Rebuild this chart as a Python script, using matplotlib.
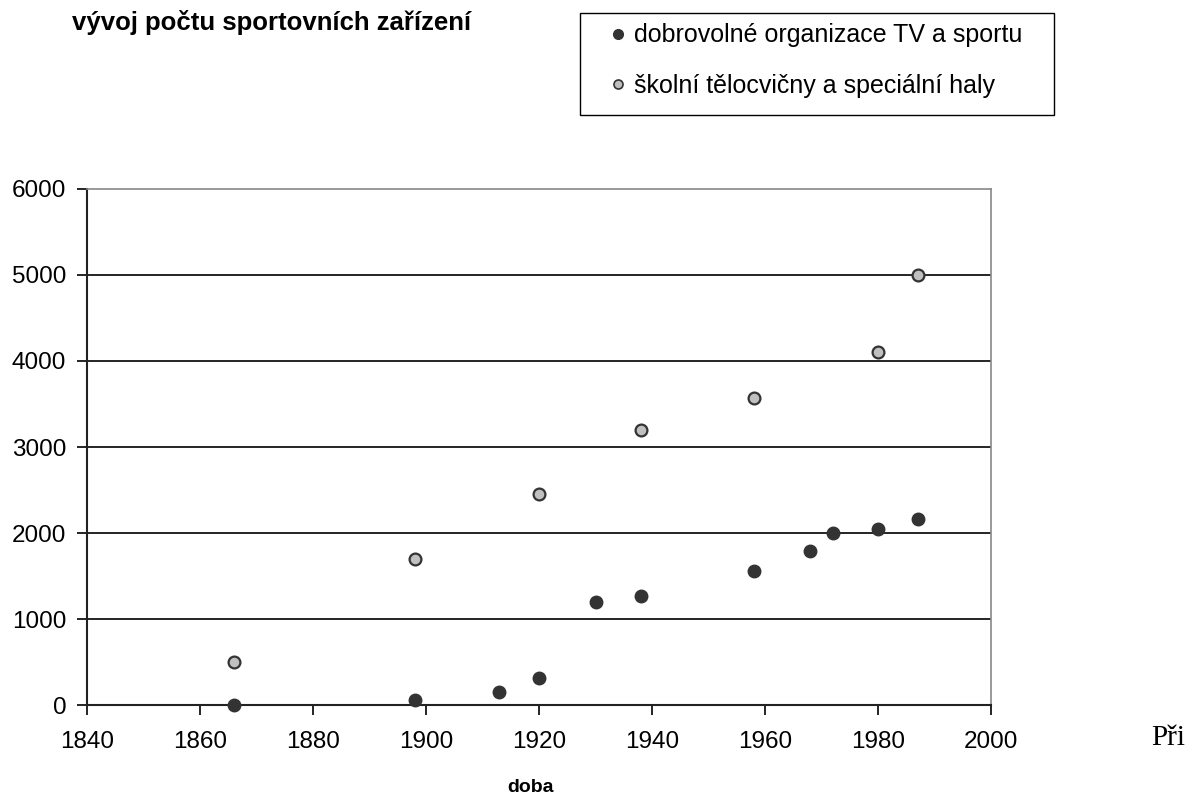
import matplotlib.pyplot as plt
from matplotlib.lines import Line2D
from matplotlib.patches import Rectangle

# data
years_dobr = [1866, 1898, 1913, 1920, 1930, 1938, 1958, 1968, 1972, 1980, 1987]
vals_dobr = [0, 55, 150, 310, 1200, 1270, 1555, 1790, 2000, 2045, 2160]
years_skol = [1866, 1898, 1920, 1938, 1958, 1980, 1987]
vals_skol = [500, 1700, 2450, 3200, 3570, 4100, 5000]

label_dobr = "dobrovolné organizace TV a sportu"
label_skol = "školní tělocvičny a speciální haly"

plt.rcParams['font.family'] = ['Liberation Sans', 'DejaVu Sans']

fig = plt.figure(figsize=(11.92, 7.99), dpi=100)
ax = fig.add_axes([0.073, 0.1176, 0.7584, 0.6459])

for y in range(1000, 6000, 1000):
    ax.axhline(y, color='black', linewidth=1.2, zorder=1)

ax.plot(years_dobr, vals_dobr, linestyle='none', marker='o', markersize=9,
        markerfacecolor='#333333', markeredgecolor='#333333', zorder=3, clip_on=False)
ax.plot(years_skol, vals_skol, linestyle='none', marker='o', markersize=8.5,
        markerfacecolor='#c0c0c0', markeredgecolor='#333333', markeredgewidth=1.6,
        zorder=3, clip_on=False)

ax.set_xlim(1840, 2000)
ax.set_ylim(0, 6000)
ax.set_xticks(range(1840, 2001, 20))
ax.set_yticks(range(0, 6001, 1000))
ax.tick_params(labelsize=17.5, direction='out', length=7, width=1.2, colors='black')
ax.tick_params(axis='x', pad=12)
ax.tick_params(axis='y', pad=8)

for side in ['left', 'bottom']:
    ax.spines[side].set_color('#222222')
    ax.spines[side].set_linewidth(1.5)
for side in ['top', 'right']:
    ax.spines[side].set_color('#888888')
    ax.spines[side].set_linewidth(1.2)

fig.text(0.06, 0.972, "vývoj počtu sportovních zařízení", fontsize=18.5,
         fontweight='bold', ha='left', va='center')
fig.text(0.445, 0.015, "doba", fontsize=14, fontweight='bold', ha='center', va='center')
fig.text(0.966, 0.076, "Při", fontsize=21, family=['Liberation Serif', 'DejaVu Serif'],
         ha='left', va='center')

# legend frame drawn on its own: the original has wide side margins
fig.patches.append(Rectangle((0.4866, 0.8561), 0.3977, 0.1277, transform=fig.transFigure,
                             facecolor='white', edgecolor='black', linewidth=1.0, zorder=0))

handles = [
    Line2D([], [], linestyle='none', marker='o', markersize=7,
           markerfacecolor='#333333', markeredgecolor='#333333'),
    Line2D([], [], linestyle='none', marker='o', markersize=6.5,
           markerfacecolor='#c0c0c0', markeredgecolor='#333333', markeredgewidth=1.2),
]
leg = fig.legend(handles, [label_dobr, label_skol], loc='upper left',
                 bbox_to_anchor=(0.508, 0.9709), fontsize=18, frameon=False,
                 handlelength=1.0, handletextpad=0.14,
                 borderpad=0, labelspacing=1.06, borderaxespad=0)

fig.savefig("out.png", dpi=100)
